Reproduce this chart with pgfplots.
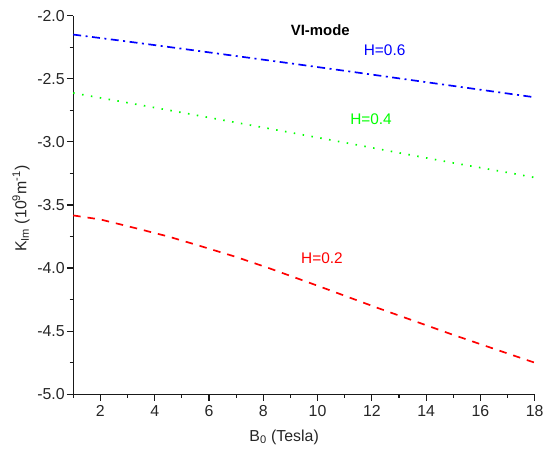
\documentclass[border=0pt]{standalone}
\usepackage{fontspec}
\setmainfont{Liberation Sans}
\usepackage{pgfplots}
\pgfplotsset{compat=1.18}
\begin{document}
\begin{tikzpicture}
\useasboundingbox (-73.5bp,-54.3bp) rectangle (473.5bp,395.7bp);
\begin{axis}[
  at={(0,0)}, anchor=south west,
  scale only axis,
  width=463.2bp, height=380bp,
  xmin=1, xmax=18, ymin=-5.0, ymax=-2.0,
  axis x line*=bottom, axis y line*=left,
  axis line style={line width=1.2pt, black!90},
  xtick={2,4,...,18}, minor xtick={1,3,...,17},
  ytick={-5,-4.5,...,-2}, minor ytick={-4.75,-4.25,...,-2.25},
  tick align=outside,
  major tick length=6.5bp, minor tick length=3.5bp,
  every tick/.style={line width=1.2pt, black!90},
  /pgf/number format/assume math mode=true,
  yticklabel style={xshift=1.5bp, /pgf/number format/fixed, /pgf/number format/fixed zerofill, /pgf/number format/precision=1},
  ticklabel style={font=\fontsize{16}{19}\selectfont, text=black!85},
  xticklabel style={yshift=-1.5bp},
  xlabel={B\textsubscript{0} (Tesla)},
  ylabel={K\textsubscript{Im} (10\textsuperscript{9}m\textsuperscript{-1})},
  label style={font=\fontsize{16}{19}\selectfont, text=black!85},
  xlabel style={at={(axis description cs:0.457,-0.1245)}, anchor=base},
  ylabel style={at={(axis description cs:-0.113,0.49)}, anchor=center},
  clip=false,
]
\addplot[blue, line width=1.7pt, dash pattern=on 8bp off 4.5bp on 2bp off 4.5bp] coordinates {
 (1,-2.150) (3,-2.205) (5,-2.262) (7,-2.320) (9,-2.378) (11,-2.437) (13,-2.497) (15,-2.557) (17,-2.617) (18,-2.647)};
\addplot[green, line width=1.7pt, dash pattern=on 1.5bp off 7.5bp] coordinates {
 (1,-2.613) (3,-2.690) (5,-2.768) (7,-2.847) (9,-2.926) (11,-3.006) (13,-3.087) (15,-3.167) (17,-3.243) (18,-3.283)};
\addplot[red, line width=1.7pt, dash pattern=on 7.5bp off 7bp] coordinates {
 (1,-3.583) (2,-3.615) (3.3,-3.684) (4.5,-3.75) (5.6,-3.82) (7,-3.912) (8.2,-4.0) (10,-4.14) (12.2,-4.315) (14.9,-4.522) (16.5,-4.64) (18,-4.75)};
\node[font=\fontsize{15}{18}\selectfont\bfseries] at (axis cs:10.1,-2.113) {VI-mode};
\node[blue, font=\fontsize{15.5}{18}\selectfont] at (axis cs:12.47,-2.27) {H=0.6};
\node[green, font=\fontsize{15.5}{18}\selectfont] at (axis cs:11.97,-2.818) {H=0.4};
\node[red, font=\fontsize{15.5}{18}\selectfont] at (axis cs:10.16,-3.925) {H=0.2};
\end{axis}
\end{tikzpicture}
\end{document}
